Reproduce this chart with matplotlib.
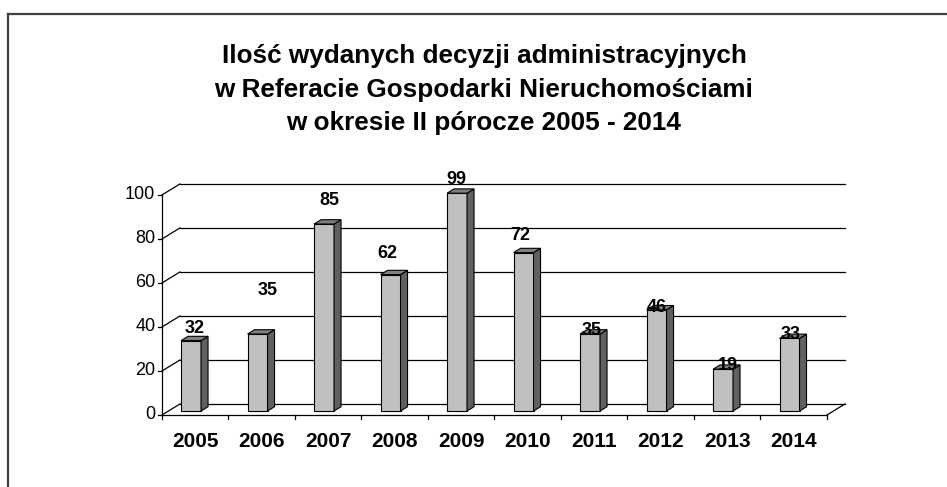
import matplotlib.pyplot as plt
from matplotlib.patches import Polygon

lata = ['2005', '2006', '2007', '2008', '2009', '2010', '2011', '2012', '2013', '2014']
decyzje = [32, 35, 85, 62, 99, 72, 35, 46, 19, 33]
os_y = [0, 20, 40, 60, 80, 100]
tytul = ['Ilość wydanych decyzji administracyjnych',
         'w Referacie Gospodarki Nieruchomościami',
         'w okresie II pórocze 2005 - 2014']

# przesunięcie etykiet względem wierzchu słupka (piksele), tak jak w oryginale z Excela
etyk_dx = [0, 7, 2, -7, -4, -7, -2, -3, 1, -2]
etyk_dy = [8, 39, 19, 17, 9, 13, -1, -2, -1, 0]

# "głębia" wykresu 3D w jednostkach danych
GX, GY = 0.27, 5.0
F0, F1 = 0.36, 0.75
SZER = 0.30
OD = 0.19

fig = plt.figure(figsize=(9.47, 4.87), dpi=100)
ax = fig.add_axes([0, 0, 1, 1])
ax.set_xlim(-2.436, 11.805)
ax.set_ylim(-32.73, 188.6)
ax.axis('off')

# ramka
fig.add_artist(plt.Line2D([8 / 947, 8 / 947], [0, 1 - 14 / 487], color='#404040', lw=1.6,
                          transform=fig.transFigure))
fig.add_artist(plt.Line2D([8 / 947, 1], [1 - 14 / 487, 1 - 14 / 487], color='#404040', lw=1.6,
                          transform=fig.transFigure))

for k, linia in enumerate(tytul):
    fig.text(484 / 947, 1 - (63 + 33.5 * k) / 487, linia, ha='center', va='baseline',
             fontsize=18.8, fontweight='bold', family='Liberation Sans')

n = len(lata)
# siatka: ukośne na lewej ścianie + poziome na tylnej
for v in os_y:
    ax.plot([0, GX], [v, v + GY], color='black', lw=0.9)
    ax.plot([GX, n + GX], [v + GY, v + GY], color='black', lw=0.9)
    ax.plot([-0.06, 0], [v, v], color='black', lw=0.9)
    ax.text(-0.1, v, str(v), ha='right', va='center', fontsize=13, family='Liberation Sans')
# oś pionowa i podłoga
ax.plot([0, 0], [0, 100], color='black', lw=0.9)
ax.plot([0, n], [0, 0], color='black', lw=0.9)
ax.plot([n, n + GX], [0, GY], color='black', lw=0.9)
for i in range(n + 1):
    ax.plot([i, i], [0, -2], color='black', lw=0.9)
for i, rok in enumerate(lata):
    ax.text(i + 0.5, -14.5, rok, ha='center', va='baseline', fontsize=15, fontweight='bold',
            family='Liberation Sans')

# słupki 3D
x0 = [i + OD + F0 * GX for i in range(n)]
ax.bar(x0, decyzje, width=SZER, bottom=F0 * GY, align='edge', color='#c0c0c0',
       edgecolor='black', linewidth=0.8, zorder=3)
dx, dy = (F1 - F0) * GX, (F1 - F0) * GY
for xl, v in zip(x0, decyzje):
    xr = xl + SZER
    yb, yt = F0 * GY, F0 * GY + v
    ax.add_patch(Polygon([(xr, yb), (xr + dx, yb + dy), (xr + dx, yt + dy), (xr, yt)],
                         closed=True, fc='#606060', ec='black', lw=0.8, zorder=3))
    ax.add_patch(Polygon([(xl, yt), (xr, yt), (xr + dx, yt + dy), (xl + dx, yt + dy)],
                         closed=True, fc='#808080', ec='black', lw=0.8, zorder=3))

for xl, v, ex, ey in zip(x0, decyzje, etyk_dx, etyk_dy):
    ax.annotate(str(v), (xl + SZER / 2 + dx / 2, F0 * GY + v + dy),
                xytext=(ex * 0.72, ey * 0.72), textcoords='offset points',
                ha='center', va='center', fontsize=13, fontweight='bold',
                family='Liberation Sans', zorder=4)

fig.savefig('out.png', dpi=100)
